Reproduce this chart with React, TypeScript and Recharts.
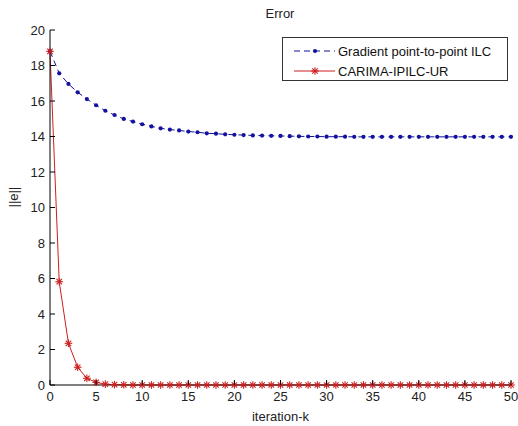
import { LineChart, Line, XAxis, YAxis, Legend } from "recharts";

const ITERATIONS = [
  0, 1, 2, 3, 4, 5, 6, 7, 8, 9, 10, 11, 12, 13, 14, 15, 16, 17, 18, 19, 20,
  21, 22, 23, 24, 25, 26, 27, 28, 29, 30, 31, 32, 33, 34, 35, 36, 37, 38, 39, 40,
  41, 42, 43, 44, 45, 46, 47, 48, 49, 50,
];

const GRADIENT = [
  18.8, 17.56, 16.96, 16.49, 16.11, 15.76, 15.45, 15.21, 14.99, 14.84, 14.69,
  14.57, 14.46, 14.39, 14.34, 14.28, 14.24, 14.18, 14.16, 14.12, 14.1,
  14.08, 14.06, 14.05, 14.04, 14.03, 14.02, 14.01, 14.0, 14.0, 13.99,
  13.99, 13.99, 13.98, 13.98, 13.98, 13.98, 13.98, 13.98, 13.98, 13.98,
  13.98, 13.98, 13.98, 13.98, 13.98, 13.98, 13.98, 13.98, 13.98, 13.98,
];

const CARIMA = [
  18.8, 5.82, 2.35, 1.0, 0.38, 0.15, 0.05, 0.02, 0.01, 0.0, 0.0,
  0.0, 0.0, 0.0, 0.0, 0.0, 0.0, 0.0, 0.0, 0.0, 0.0,
  0.0, 0.0, 0.0, 0.0, 0.0, 0.0, 0.0, 0.0, 0.0, 0.0,
  0.0, 0.0, 0.0, 0.0, 0.0, 0.0, 0.0, 0.0, 0.0, 0.0,
  0.0, 0.0, 0.0, 0.0, 0.0, 0.0, 0.0, 0.0, 0.0, 0.0,
];

const X_TICKS = [0, 5, 10, 15, 20, 25, 30, 35, 40, 45, 50];
const Y_TICKS = [0, 2, 4, 6, 8, 10, 12, 14, 16, 18, 20];

const BLUE = "#12129e";
const RED = "#cc1f1f";
const FONT = "'Liberation Sans', Arial, Helvetica, sans-serif";

const data = ITERATIONS.map((k, i) => ({ k, grad: GRADIENT[i], carima: CARIMA[i] }));

// matlab-style ticks: short marks pointing into the plot box
const BottomTick = ({ x, y, payload }: any) => (
  <g>
    <line x1={x} x2={x} y1={y} y2={y - 5} stroke="#000" />
    <text x={x} y={y + 16} textAnchor="middle" fontSize={13} fontFamily={FONT} fill="#222">
      {payload.value}
    </text>
  </g>
);

const LeftTick = ({ x, y, payload }: any) => (
  <g>
    <line x1={x} x2={x + 5} y1={y} y2={y} stroke="#000" />
    <text x={x - 5} y={y + 4.5} textAnchor="end" fontSize={13} fontFamily={FONT} fill="#222">
      {payload.value}
    </text>
  </g>
);

const TopTick = ({ x, y }: any) => <line x1={x} x2={x} y1={y} y2={y + 5} stroke="#000" />;
const RightTick = ({ x, y }: any) => <line x1={x} x2={x - 5} y1={y} y2={y} stroke="#000" />;

const Star = ({ cx, cy, size = 3.8 }: any) => {
  if (cx == null || cy == null) return null;
  const d = size * 0.72;
  return (
    <g stroke={RED} strokeWidth={1.1}>
      <line x1={cx - size} x2={cx + size} y1={cy} y2={cy} />
      <line x1={cx} x2={cx} y1={cy - size} y2={cy + size} />
      <line x1={cx - d} x2={cx + d} y1={cy - d} y2={cy + d} />
      <line x1={cx - d} x2={cx + d} y1={cy + d} y2={cy - d} />
    </g>
  );
};

const BlueDot = ({ cx, cy }: any) => {
  if (cx == null || cy == null) return null;
  return <circle cx={cx} cy={cy} r={2.1} fill={BLUE} />;
};

const LegendBox = () => (
  <div
    style={{
      border: "1px solid #333",
      background: "#fff",
      width: 224,
      height: 42,
      fontFamily: FONT,
      fontSize: 13,
      color: "#111",
      boxSizing: "content-box",
    }}
  >
    {[
      { name: "Gradient point-to-point ILC", kind: "grad" },
      { name: "CARIMA-IPILC-UR", kind: "carima" },
    ].map((e) => (
      <div key={e.kind} style={{ display: "flex", alignItems: "center", height: 20, marginTop: e.kind === "grad" ? 3 : 0 }}>
        <svg width={54} height={20} style={{ display: "block" }}>
          {e.kind === "grad" ? (
            <>
              <line x1={11} x2={52} y1={10} y2={10} stroke={BLUE} strokeDasharray="6 4" />
              <BlueDot cx={32} cy={10} />
            </>
          ) : (
            <>
              <line x1={11} x2={52} y1={10} y2={10} stroke={RED} />
              <Star cx={32} cy={10} />
            </>
          )}
        </svg>
        <span style={{ marginLeft: 1, whiteSpace: "nowrap" }}>{e.name}</span>
      </div>
    ))}
  </div>
);

export default function App() {
  return (
    <div style={{ position: "absolute", left: 0, top: 0, width: 518, height: 426, background: "#fff" }}>
      <LineChart width={518} height={426} data={data} margin={{ top: 30, right: 7, bottom: 0, left: 0 }}>
        <XAxis
          dataKey="k"
          type="number"
          domain={[0, 50]}
          ticks={X_TICKS}
          height={41}
          tickSize={0}
          tickMargin={0}
          tickLine={false}
          tick={<BottomTick />}
          axisLine={{ stroke: "#000" }}
          interval={0}
          label={{ value: "iteration-k", position: "insideBottom", offset: 5, fontSize: 13, fontFamily: FONT, fill: "#222" }}
        />
        <XAxis
          xAxisId="top"
          orientation="top"
          dataKey="k"
          type="number"
          domain={[0, 50]}
          ticks={X_TICKS}
          height={0}
          tickSize={0}
          tickMargin={0}
          tickLine={false}
          tick={<TopTick />}
          axisLine={{ stroke: "#000" }}
          interval={0}
        />
        <YAxis
          type="number"
          domain={[0, 20]}
          ticks={Y_TICKS}
          width={50}
          tickSize={0}
          tickMargin={0}
          tickLine={false}
          tick={<LeftTick />}
          axisLine={{ stroke: "#000" }}
          interval={0}
          label={{ value: "||e||", angle: -90, position: "insideLeft", offset: 13, fontSize: 13, fontFamily: FONT, fill: "#222" }}
        />
        <YAxis
          yAxisId="right"
          orientation="right"
          type="number"
          domain={[0, 20]}
          ticks={Y_TICKS}
          width={0}
          tickSize={0}
          tickMargin={0}
          tickLine={false}
          tick={<RightTick />}
          axisLine={{ stroke: "#000" }}
          interval={0}
        />
        <text x={280} y={18} textAnchor="middle" fontSize={13} fontFamily={FONT} fill="#222">
          Error
        </text>
        <Legend
          layout="vertical"
          align="center"
          verticalAlign="middle"
          content={<LegendBox />}
          wrapperStyle={{ left: 282, top: 37, width: 226 }}
        />
        <Line
          dataKey="grad"
          name="Gradient point-to-point ILC"
          stroke={BLUE}
          strokeWidth={1}
          strokeDasharray="6 4"
          dot={<BlueDot />}
          activeDot={false}
          isAnimationActive={false}
        />
        <Line
          dataKey="carima"
          name="CARIMA-IPILC-UR"
          stroke={RED}
          strokeWidth={1}
          dot={<Star />}
          activeDot={false}
          isAnimationActive={false}
        />
      </LineChart>
    </div>
  );
}
